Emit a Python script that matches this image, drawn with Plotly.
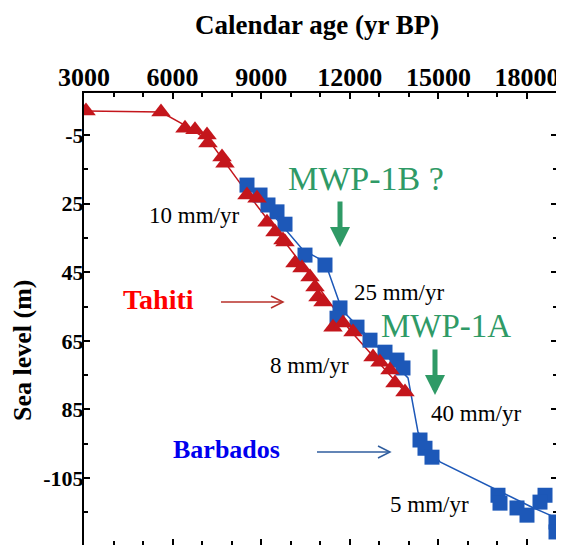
import plotly.graph_objects as go

# ---- data ----
tahiti_age = [3068, 5607, 6420, 6758, 7165, 7199, 7673, 7774, 8519, 8858, 9196, 9467,
              9738, 9806, 10144, 10381, 10652, 10822, 10924, 11093, 11431, 11770,
              12109, 12786, 13023, 13361, 13530, 13869]
tahiti_level = [2.0, 1.7, -3.0, -3.5, -5.0, -7.3, -11.4, -13.2, -22.5, -23.4, -30.4, -33.3,
                -35.6, -36.2, -42.3, -43.8, -46.4, -49.3, -52.2, -53.7, -61.0, -59.8,
                -62.4, -69.7, -71.2, -73.5, -77.3, -79.9]

barbados_age = [8519, 8960, 9230, 9535, 9806, 10483, 11160, 11668, 11567, 12244, 12684,
                13192, 13598, 13801, 14377, 14546, 14783, 17018, 17086, 17662, 18000,
                18610, 18440, 18982, 18982]
barbados_level = [-19.6, -22.5, -25.4, -27.4, -31.0, -40.0, -42.9, -55.4, -58.4, -61.0, -64.8,
                  -68.3, -70.6, -72.9, -93.9, -96.3, -98.9, -110.0, -112.3, -113.7, -115.8,
                  -110.0, -112.0, -117.8, -120.7]

tahiti_fit_age = [3068, 5607, 6589, 7266, 8451, 10314, 12007, 13869]
tahiti_fit_level = [2.0, 1.7, -3.0, -7.0, -21.0, -42.0, -61.9, -79.9]

barbados_fit_age = [8451, 10415, 11160, 11736, 13971, 14310, 15055, 18170, 19016]
barbados_fit_level = [-18.7, -38.5, -42.0, -56.0, -75.8, -91.6, -100.3, -113.5, -116.7]

x_ticks = [3000, 6000, 9000, 12000, 15000, 18000]
x_ticktext = ["3000", "6000", "9000", "12000", "15000", "18000"]
y_ticks = [-5, -25, -45, -65, -85, -105]
y_ticktext = ["-5", "25", "45", "65", "85", "-105"]
y_minor = [-15, -35, -55, -75, -95, -115]

RED = "#c4161c"
BLUE = "#1d58b8"
GREEN = "#2f9a66"
FONT = "Liberation Serif"

# page has an 8px body margin; figure sized to fit the window
OFF = 8
W, H = 564 - OFF, 545 - OFF
L, R, T, B = 84 - OFF, 7, 93 - OFF, 0
PW, PH = W - L - R, H - T - B


def px(x):  # page pixel -> paper
    return (x - OFF - L) / PW


def py(y):
    return (H - B - (y - OFF)) / PH


fig = go.Figure()
fig.add_trace(go.Scatter(x=tahiti_fit_age, y=tahiti_fit_level, mode="lines",
                         line=dict(color=RED, width=1.5), hoverinfo="skip", showlegend=False))
fig.add_trace(go.Scatter(x=barbados_fit_age, y=barbados_fit_level, mode="lines",
                         line=dict(color=BLUE, width=1.5), hoverinfo="skip", showlegend=False))
fig.add_trace(go.Scatter(x=barbados_age, y=barbados_level, mode="markers",
                         marker=dict(symbol="square", size=15, color=BLUE, line=dict(width=0)),
                         showlegend=False))
fig.add_trace(go.Scatter(x=tahiti_age, y=tahiti_level, mode="markers",
                         marker=dict(symbol="triangle-up", size=17, color=RED, line=dict(width=0)),
                         showlegend=False))

ann = []


def text(s, cx, cy, size, color="black", bold=False, angle=0):
    ann.append(dict(text=f"<b>{s}</b>" if bold else s, x=px(cx), y=py(cy), xref="paper", yref="paper",
                    xanchor="center", yanchor="middle", showarrow=False, textangle=angle,
                    font=dict(family=FONT, size=size, color=color)))


text("Calendar age (yr BP)", 317, 25, 27, bold=True)
text("Sea level (m)", 22, 350, 26, bold=True, angle=-90)
text("MWP-1B ?", 366, 178, 34, GREEN)
text("MWP-1A", 446, 326, 33, GREEN)
text("10 mm/yr", 194, 215, 23)
text("25 mm/yr", 399, 292, 23)
text("8 mm/yr", 309, 365, 23)
text("40 mm/yr", 476, 413, 23)
text("5 mm/yr", 429, 504, 23)
text("Tahiti", 158, 299, 28, "#ff0000", bold=True)
text("Barbados", 226, 449, 26, "#0000ee", bold=True)

# green down arrows
for (x0, y0, y1) in [(340, 200, 247), (435, 348, 395)]:
    ann.append(dict(x=px(x0), y=py(y1), xref="paper", yref="paper", ax=0, ay=-(y1 - y0),
                    axref="pixel", ayref="pixel", showarrow=True, arrowhead=2, arrowsize=0.8,
                    arrowwidth=5, arrowcolor=GREEN, text=""))

shapes = []
# open-headed pointer arrows
for (x0, x1, yy, col) in [(221, 283, 302, "#b8302a"), (317, 390, 452, "#2f5d9e")]:
    shapes.append(dict(type="line", xref="paper", yref="paper", x0=px(x0), x1=px(x1),
                       y0=py(yy), y1=py(yy), line=dict(color=col, width=1.5)))
    shapes.append(dict(type="path", xref="paper", yref="paper",
                       path=f"M{px(x1-12)},{py(yy-6)} L{px(x1)},{py(yy)} L{px(x1-12)},{py(yy+6)}",
                       line=dict(color=col, width=1.5)))

fig.update_layout(
    width=W, height=H, margin=dict(l=L, r=R, t=T, b=B, pad=0, autoexpand=False),
    paper_bgcolor="white", plot_bgcolor="white",
    annotations=ann, shapes=shapes, showlegend=False,
    xaxis=dict(range=[3000, 19016], side="top", tickvals=x_ticks,
               ticktext=[f"<b>{t}</b>" for t in x_ticktext], automargin=False,
               ticks="inside", ticklen=6, ticklabelstandoff=-5,
               tickwidth=1.5, tickcolor="black", showgrid=False, zeroline=False,
               showline=True, linecolor="black", linewidth=2, mirror="ticks",
               tickfont=dict(family=FONT, size=26, color="black"),
               minor=dict(dtick=1000, tick0=0, ticks="inside", ticklen=4, tickcolor="black", showgrid=False)),
    yaxis=dict(range=[-124.5, 7.24], tickvals=y_ticks, ticktext=[f"<b>{t}</b>" for t in y_ticktext],
               automargin=False, ticklabelstandoff=-6,
               ticks="inside", ticklen=6, tickwidth=1.5, tickcolor="black", showgrid=False,
               zeroline=False, showline=True, linecolor="black", linewidth=2, mirror="ticks",
               tickfont=dict(family=FONT, size=22, color="black"),
               minor=dict(tickvals=y_minor, ticks="inside", ticklen=4, tickcolor="black", showgrid=False)),
)

fig.write_html("out.html")
